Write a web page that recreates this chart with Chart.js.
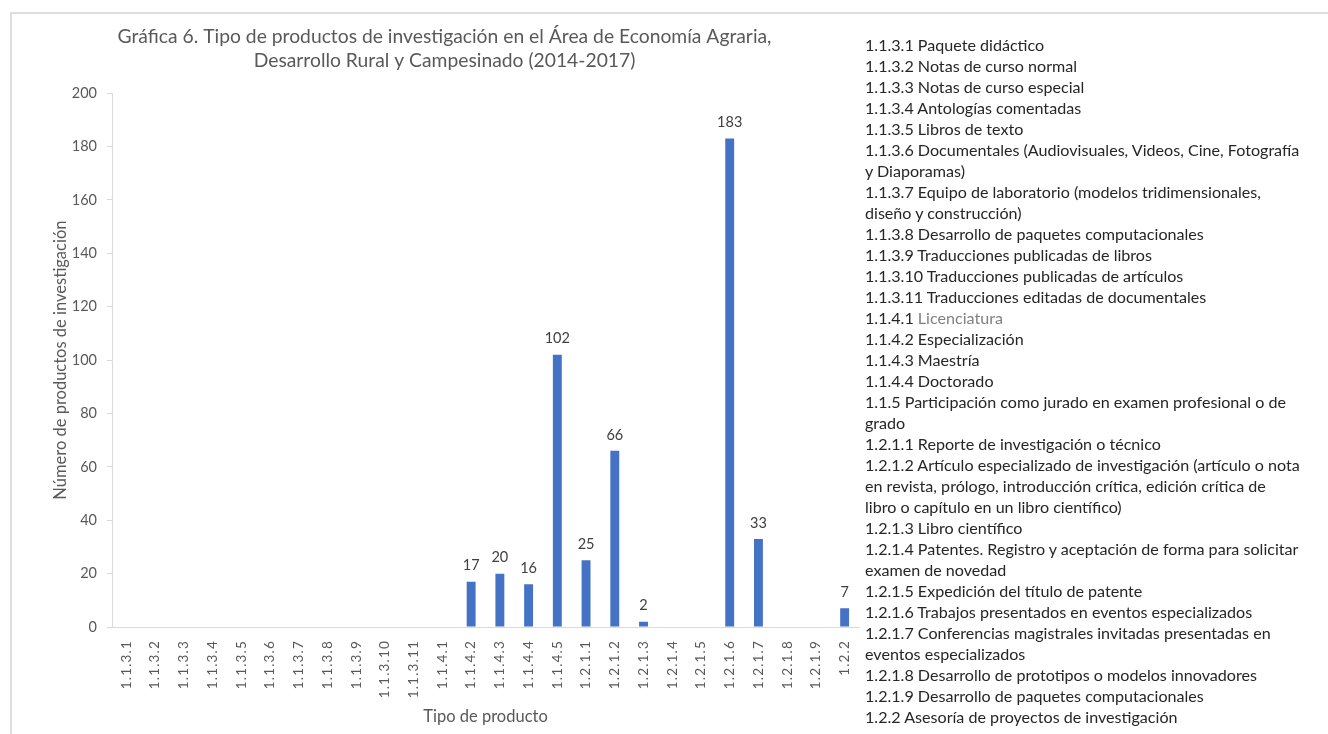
<!DOCTYPE html>
<html lang="es">
<head>
<meta charset="utf-8">
<title>Gráfica 6</title>
<script src="https://cdn.jsdelivr.net/npm/chart.js@4.4.1/dist/chart.umd.min.js"></script>
<style>
  body { margin: 0; background: #fff; width: 1328px; height: 734px; overflow: hidden; position: relative; font-family: Lato, sans-serif; }
  #frame { position: absolute; left: 10px; top: 12px; width: 1330px; height: 740px; border-left: 2px solid #dedede; border-top: 2px solid #dedede; }
  #wrap { position: absolute; left: 0; top: 0; width: 888px; height: 734px; }
  #notes { position: absolute; left: 865px; top: 34px; font-size: 16.1px; line-height: 21px; color: #262626; white-space: nowrap; }
  #notes .soft { color: #808080; }
</style>
</head>
<body>
<div id="frame"></div>
<div id="wrap"><canvas id="chart" width="888" height="734"></canvas></div>
<div id="notes"></div>
<script>
const titleLines = ['Gráfica 6. Tipo de productos de investigación en el Área de Economía Agraria,', 'Desarrollo Rural y Campesinado (2014-2017)'];
const yTitle = 'Número de productos de investigación';
const xTitle = 'Tipo de producto';

const categories = ['1.1.3.1', '1.1.3.2', '1.1.3.3', '1.1.3.4', '1.1.3.5', '1.1.3.6', '1.1.3.7', '1.1.3.8', '1.1.3.9', '1.1.3.10', '1.1.3.11',
  '1.1.4.1', '1.1.4.2', '1.1.4.3', '1.1.4.4', '1.1.4.5',
  '1.2.1.1', '1.2.1.2', '1.2.1.3', '1.2.1.4', '1.2.1.5', '1.2.1.6', '1.2.1.7', '1.2.1.8', '1.2.1.9', '1.2.2'];
const values = [0, 0, 0, 0, 0, 0, 0, 0, 0, 0, 0,
  0, 17, 20, 16, 102,
  25, 66, 2, 0, 0, 183, 33, 0, 0, 7];
const yTicks = [0, 20, 40, 60, 80, 100, 120, 140, 160, 180, 200];

// descripcion de cada clave, tal como esta partida en el cuadro de texto
const noteLines = [
  '1.1.3.1 Paquete didáctico',
  '1.1.3.2 Notas de curso normal',
  '1.1.3.3 Notas de curso especial',
  '1.1.3.4 Antologías comentadas',
  '1.1.3.5 Libros de texto',
  '1.1.3.6 Documentales (Audiovisuales, Videos, Cine, Fotografía',
  'y Diaporamas)',
  '1.1.3.7 Equipo de laboratorio (modelos tridimensionales,',
  'diseño y construcción)',
  '1.1.3.8 Desarrollo de paquetes computacionales',
  '1.1.3.9 Traducciones publicadas de libros',
  '1.1.3.10  Traducciones publicadas de artículos',
  '1.1.3.11  Traducciones editadas de documentales',
  '1.1.4.1 |Licenciatura',
  '1.1.4.2 Especialización',
  '1.1.4.3 Maestría',
  '1.1.4.4 Doctorado',
  '1.1.5 Participación como jurado en examen profesional o de',
  'grado',
  '1.2.1.1 Reporte de investigación o técnico',
  '1.2.1.2 Artículo especializado de investigación (artículo o nota',
  'en revista, prólogo, introducción crítica, edición crítica de',
  'libro o capítulo en un libro científico)',
  '1.2.1.3 Libro científico',
  '1.2.1.4 Patentes. Registro y aceptación de forma para solicitar',
  'examen de novedad',
  '1.2.1.5 Expedición del título de patente',
  '1.2.1.6 Trabajos presentados en eventos especializados',
  '1.2.1.7 Conferencias magistrales invitadas presentadas en',
  'eventos especializados',
  '1.2.1.8 Desarrollo de prototipos o modelos innovadores',
  '1.2.1.9 Desarrollo de paquetes computacionales',
  '1.2.2 Asesoría de proyectos de investigación'
];

const notes = document.getElementById('notes');
noteLines.forEach(line => {
  const div = document.createElement('div');
  const parts = line.split('|');
  div.textContent = parts[0];
  if (parts[1]) {
    const span = document.createElement('span');
    span.className = 'soft';
    span.textContent = parts[1];
    div.appendChild(span);
  }
  notes.appendChild(div);
});

const FONT = 'Lato';
const GREY = '#595959';

// numeros encima de las barras
const barLabels = {
  id: 'barLabels',
  afterDatasetsDraw(chart) {
    const ctx = chart.ctx;
    const meta = chart.getDatasetMeta(0);
    ctx.save();
    ctx.font = '14.5px ' + FONT;
    ctx.fillStyle = '#404040';
    ctx.textAlign = 'center';
    ctx.textBaseline = 'middle';
    meta.data.forEach((bar, i) => {
      if (!values[i]) return;
      ctx.fillText(String(values[i]), bar.x, bar.y - 16);
    });
    ctx.restore();
  }
};

// etiquetas del eje x, verticales y con espaciado entre letras
const xLabels = {
  id: 'xLabels',
  afterDraw(chart) {
    const ctx = chart.ctx;
    const xs = chart.scales.x;
    ctx.save();
    ctx.font = '13.5px ' + FONT;
    ctx.fillStyle = GREY;
    ctx.letterSpacing = '1.2px';
    ctx.textAlign = 'right';
    ctx.textBaseline = 'middle';
    categories.forEach((c, i) => {
      ctx.save();
      ctx.translate(xs.getPixelForValue(i), xs.top + 13);
      ctx.rotate(-Math.PI / 2);
      ctx.fillText(c, 0, 0);
      ctx.restore();
    });
    ctx.restore();
  }
};

new Chart(document.getElementById('chart'), {
  type: 'bar',
  data: {
    labels: categories,
    datasets: [{
      data: values,
      backgroundColor: '#4472C4',
      borderWidth: 0,
      categoryPercentage: 1,
      barPercentage: 0.31
    }]
  },
  options: {
    responsive: false,
    animation: false,
    layout: { padding: { left: 30, right: 29, top: 0, bottom: 0 } },
    plugins: {
      legend: { display: false },
      tooltip: { enabled: false },
      title: {
        display: true,
        text: titleLines,
        color: GREY,
        font: { family: FONT, size: 19.3, weight: 'normal', lineHeight: 1.25 },
        padding: { top: 25, bottom: 20 }
      }
    },
    scales: {
      x: {
        grid: { display: false },
        border: { display: true, color: '#d9d9d9', width: 1 },
        ticks: { display: false },
        title: {
          display: true,
          text: xTitle,
          color: GREY,
          font: { family: FONT, size: 16.5 },
          padding: { top: 0, bottom: 7 }
        },
        afterFit(scale) { scale.height = 107; }
      },
      y: {
        min: 0,
        max: 200,
        afterBuildTicks(scale) { scale.ticks = yTicks.map(v => ({ value: v })); },
        grid: { drawOnChartArea: false, drawTicks: true, tickLength: 5, color: '#d9d9d9' },
        border: { display: true, color: '#d9d9d9', width: 1 },
        ticks: { color: GREY, padding: 10, font: { family: FONT, size: 14.5 } },
        title: {
          display: true,
          text: yTitle,
          color: GREY,
          font: { family: FONT, size: 16.5 },
          padding: { top: 21, bottom: 0 }
        },
        afterFit(scale) { scale.width = 82; }
      }
    }
  },
  plugins: [barLabels, xLabels]
});
</script>
</body>
</html>
